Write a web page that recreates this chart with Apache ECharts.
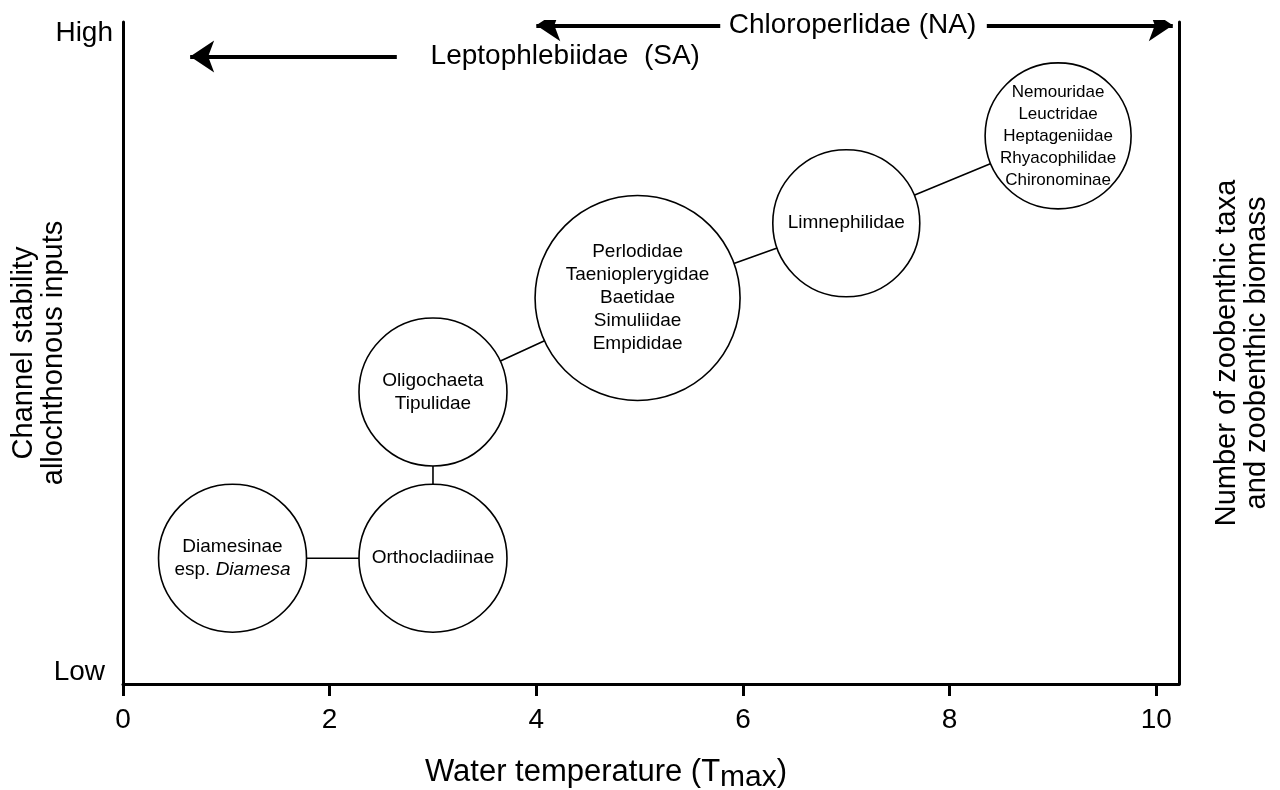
<!DOCTYPE html>
<html>
<head>
<meta charset="utf-8">
<script src="https://cdn.jsdelivr.net/npm/echarts@6/dist/echarts.min.js"></script>
<style>
  html, body { margin: 0; padding: 0; background: #fff; }
  #main { width: 1280px; height: 790px; }
</style>
</head>
<body>
<div id="main"></div>
<script>
// taxa groups (circles) along the temperature gradient
const nodeNames = [
  "Diamesinae\nesp. Diamesa",
  "Orthocladiinae",
  "Oligochaeta\nTipulidae",
  "Perlodidae\nTaenioplerygidae\nBaetidae\nSimuliidae\nEmpididae",
  "Limnephilidae",
  "Nemouridae\nLeuctridae\nHeptageniidae\nRhyacophilidae\nChironominae"
];
const nodeX = [1.06, 3.0, 3.0, 4.98, 7.0, 9.05];
const nodeY = [19.0, 19.0, 44.1, 58.3, 69.6, 82.8];

// range arrows at the top
const arrowLabels = ["Chloroperlidae (NA)", "Leptophlebiidae  (SA)"];
const arrowLabelX = [7.06, 4.28];
const arrowLabelY = [99.5, 94.8];
// [from x, to (arrow head) x, y]
const arrowSegs = [
  [5.78, 4.0, 99.5],
  [8.36, 10.16, 99.5],
  [2.65, 0.65, 94.8]
];

const xTicks = [0, 2, 4, 6, 8, 10];
const yTicks = [0, 100];
const yTickLabels = ["Low", "High"];

const FONT = "Liberation Sans, Arial, Helvetica, sans-serif";

let chart = echarts.init(document.getElementById("main"));

// circle diameters in px (bigger group = bigger circle)
const diam = [148, 148, 148, 205, 147, 146];

let nodes = nodeNames.map((n, i) => {
  let item = { name: n, value: [nodeX[i], nodeY[i]], symbolSize: diam[i] };
  if (i === 0) {
    item.label = { formatter: "{n|Diamesinae}\n{n|esp. }{it|Diamesa}" };
  }
  if (i === 5) {
    item.label = { fontSize: 17, lineHeight: 22 };
  }
  return item;
});

chart.setOption({
  animation: false,
  grid: { left: 123, right: 101, top: 22, bottom: 106, outerBoundsMode: "none" },
  xAxis: {
    type: "value",
    min: 0,
    max: 10.22,
    interval: 2,
    splitLine: { show: false },
    axisLine: { lineStyle: { color: "#000", width: 3 } },
    axisTick: { customValues: xTicks, length: 12, lineStyle: { color: "#000", width: 3 } },
    axisLabel: {
      customValues: xTicks,
      color: "#000",
      fontSize: 28,
      fontFamily: FONT,
      margin: 22
    },
    name: "Water temperature (T{sub|max})",
    nameLocation: "middle",
    nameGap: 67,
    nameMoveOverlap: false,
    nameTextStyle: {
      color: "#000",
      fontSize: 31,
      fontFamily: FONT,
      padding: [0, 90, 0, 0],
      rich: {
        sub: { fontSize: 30, fontFamily: FONT, color: "#000", padding: [12, 0, 0, 0] }
      }
    }
  },
  yAxis: [
    {
      type: "value",
      min: 0,
      max: 100,
      splitLine: { show: false },
      axisLine: { lineStyle: { color: "#000", width: 3 } },
      axisTick: { show: false },
      axisLabel: {
        customValues: yTicks,
        margin: 10,
        formatter: (v) => {
          let i = yTicks.indexOf(v);
          return i === 0 ? "{low|" + yTickLabels[0] + "}" : "{high|" + yTickLabels[1] + "}";
        },
        rich: {
          low: { fontSize: 28, fontFamily: FONT, color: "#000", padding: [0, 8, 24, 0] },
          high: { fontSize: 28, fontFamily: FONT, color: "#000", padding: [22, 0, 0, 0] }
        }
      },
      name: "Channel stability\nallochthonous inputs",
      nameLocation: "middle",
      nameRotate: 90,
      nameGap: 54,
      nameMoveOverlap: false,
      nameTextStyle: { color: "#000", fontSize: 29, lineHeight: 30, fontFamily: FONT }
    },
    {
      type: "value",
      position: "right",
      min: 0,
      max: 100,
      splitLine: { show: false },
      axisLine: { show: true, lineStyle: { color: "#000", width: 3 } },
      axisTick: { show: false },
      axisLabel: { show: false },
      name: "Number of zoobenthic taxa\nand zoobenthic biomass",
      nameLocation: "middle",
      nameRotate: 90,
      nameGap: 33,
      nameMoveOverlap: false,
      nameTextStyle: { color: "#000", fontSize: 29, lineHeight: 30, fontFamily: FONT }
    }
  ],
  series: [
    {
      // connectors between groups
      type: "line",
      data: nodeX.map((x, i) => [x, nodeY[i]]),
      symbol: "none",
      lineStyle: { color: "#000", width: 1.6 },
      z: 1
    },
    {
      type: "scatter",
      data: nodes,
      symbol: "circle",
      itemStyle: { color: "#fff", borderColor: "#000", borderWidth: 1.6, opacity: 1 },
      label: {
        show: true,
        position: "inside",
        formatter: "{b}",
        color: "#000",
        fontSize: 19,
        lineHeight: 23,
        fontFamily: FONT,
        rich: {
          n: { fontSize: 19, lineHeight: 23, fontFamily: FONT, color: "#000" },
          it: { fontSize: 19, lineHeight: 23, fontFamily: FONT, color: "#000", fontStyle: "italic" }
        }
      },
      emphasis: { disabled: true },
      z: 3
    },
    {
      type: "lines",
      coordinateSystem: "cartesian2d",
      data: arrowSegs.map((s) => ({ coords: [[s[0], s[2]], [s[1], s[2]]] })),
      symbol: ["none", "arrow"],
      symbolSize: [0, 24],
      lineStyle: { color: "#000", width: 4, opacity: 1 },
      z: 4
    },
    {
      type: "scatter",
      data: arrowLabels.map((t, i) => ({ name: t, value: [arrowLabelX[i], arrowLabelY[i]] })),
      symbolSize: 0,
      itemStyle: { opacity: 1 },
      label: {
        show: true,
        position: "inside",
        formatter: "{b}",
        color: "#000",
        fontSize: 28,
        fontFamily: FONT
      },
      emphasis: { disabled: true },
      z: 4
    }
  ]
});
</script>
</body>
</html>
